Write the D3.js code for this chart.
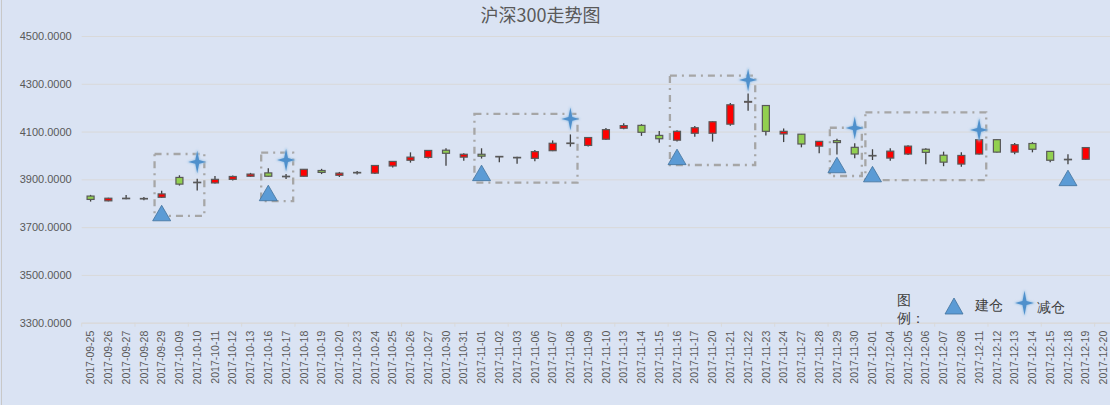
<!DOCTYPE html>
<html lang="zh">

<head>
	<meta charset="utf-8">
	<title> 沪深300走势图 </title>
	<script src="https://d3js.org/d3.v7.min.js"></script>
	<style type="text/css">
		body { margin: 0; background: #dae3f3; }
		svg { display: block; }
		text { font-family: "Liberation Sans", Arial, sans-serif; }
		.cjk { font-family: "Noto Sans CJK SC", "Noto Sans", sans-serif; }
	</style>
</head>

<body>
	<svg id="chart" width="1110" height="405"></svg>

	<script type="text/javascript">
	// categories (trading days)
	var dates = ["2017-09-25","2017-09-26","2017-09-27","2017-09-28","2017-09-29",
		"2017-10-09","2017-10-10","2017-10-11","2017-10-12","2017-10-13","2017-10-16","2017-10-17",
		"2017-10-18","2017-10-19","2017-10-20","2017-10-23","2017-10-24","2017-10-25","2017-10-26",
		"2017-10-27","2017-10-30","2017-10-31","2017-11-01","2017-11-02","2017-11-03","2017-11-06",
		"2017-11-07","2017-11-08","2017-11-09","2017-11-10","2017-11-13","2017-11-14","2017-11-15",
		"2017-11-16","2017-11-17","2017-11-20","2017-11-21","2017-11-22","2017-11-23","2017-11-24",
		"2017-11-27","2017-11-28","2017-11-29","2017-11-30","2017-12-01","2017-12-04","2017-12-05",
		"2017-12-06","2017-12-07","2017-12-08","2017-12-11","2017-12-12","2017-12-13","2017-12-14",
		"2017-12-15","2017-12-18","2017-12-19","2017-12-20"]

	// OHLC series (12-20 has no bar)
	var open  = [3830,3810,3819,3818,3825, 3908,3886,3885,3900,3913,3927,3911, 3913,3937,3917,3927,3926,3956,3980,
		3992,4022,3993,4005,3994,3990,3988, 4020,4050,4042,4068,4114,4126,4084, 4064,4093,4093,4131,4223,4209,4090,
		4089,4039,4062,4034,3998,3989,4006, 4026,4001,3964,4006,4066,4014,4050, 4017,3982,3984,null]
	var high  = [3835,3823,3834,3826,3852, 3917,3902,3914,3916,3927,3946,3922, 3943,3944,3931,3935,3960,3977,4013,
		4023,4030,4009,4030,3998,3995,4023, 4063,4088,4077,4115,4135,4131,4102, 4106,4123,4143,4220,4259,4211,4113,
		4090,4061,4070,4051,4026,4030,4043, 4030,4016,4013,4068,4068,4052,4056, 4018,4005,4035,null]
	var low   = [3807,3808,3817,3812,3822, 3874,3853,3883,3895,3910,3911,3901, 3912,3922,3910,3920,3922,3950,3970,
		3987,3957,3978,3987,3972,3965,3976, 4018,4037,4037,4065,4110,4082,4053, 4058,4078,4058,4124,4187,4084,4056,
		4034,4009,4004,3988,3981,3978,4002, 3963,3955,3953,4004,4012,4005,4013, 3972,3963,3982,null]
	var close = [3816,3821,3821,3820,3839, 3880,3888,3900,3912,3922,3913,3913, 3942,3929,3926,3929,3958,3975,3993,
		4021,4009,4005,3997,3996,3992,4016, 4051,4052,4075,4108,4125,4097,4070, 4101,4116,4141,4212,4226,4101,4101,
		4048,4059,4054,4006,4000,4018,4039, 4013,3972,4000,4066,4014,4045,4026, 3980,3984,4033,null]

	// markers: 建仓 (triangles) and 减仓 (stars)
	var buyDates  = ["2017-09-29","2017-10-16","2017-11-01","2017-11-16","2017-11-29","2017-12-01","2017-12-18"]
	var buyValues = [3759, 3843, 3927, 3994, 3960, 3922, 3906]
	var sellDates  = ["2017-10-10","2017-10-17","2017-11-08","2017-11-22","2017-11-30","2017-12-11"]
	var sellValues = [3973, 3981, 4153, 4316, 4115, 4107]

	// dash-dot boxes around each position
	var boxStart = ["2017-09-29","2017-10-16","2017-11-01","2017-11-16","2017-11-29","2017-12-01"]
	var boxEnd   = ["2017-10-10","2017-10-17","2017-11-08","2017-11-22","2017-11-30","2017-12-11"]
	var boxTop   = [4006, 4012, 4174, 4334, 4116, 4180]
	var boxBottom= [3747, 3809, 3886, 3960, 3914, 3897]

	var yTicks = [3300, 3500, 3700, 3900, 4100, 4300, 4500]

	// colours
	var upColor = "#ff0000"
	var downColor = "#92d050"
	var edgeColor = "#595959"
	var markBlue = "#5b9bd5"
	var gridColor = "#d9d9d9"

	var windowW = 1110
	var windowH = 405
	var margin = {top: 36, left: 81.7, bottom: 82.3}
	var plotRight = 1112.4

	var data = dates.map((d, i) => ({date: d, o: open[i], h: high[i], l: low[i], c: close[i]}))

	var x = d3.scaleBand().domain(dates).range([margin.left, plotRight]).padding(0)
	var step = x.step()
	var cx = d => x(d) + step / 2
	var y = d3.scaleLinear().domain([3300, 4500]).range([windowH - margin.bottom, margin.top])

	var svg = d3.select("#chart")

	svg.append("rect").attr("width", windowW).attr("height", windowH).attr("fill", "#dae3f3")
	svg.append("line").attr("x1", 1.5).attr("x2", 1.5).attr("y1", 0).attr("y2", windowH)
		.attr("stroke", "#c8c8c8").attr("stroke-width", 1)

	// soft edge for the stars
	var defs = svg.append("defs")
	defs.append("filter").attr("id", "glow").attr("x", "-50%").attr("y", "-50%").attr("width", "200%").attr("height", "200%")
		.append("feGaussianBlur").attr("stdDeviation", 0.8)

	// title
	svg.append("text").attr("class", "cjk")
		.attr("x", 540.5).attr("y", 22)
		.attr("text-anchor", "middle")
		.attr("font-size", 18).attr("fill", "#595959")
		.text("沪深300走势图")

	// y grid + labels
	var yAxis = d3.axisLeft(y).tickValues(yTicks).tickSize(-(plotRight - margin.left))
		.tickPadding(10).tickFormat(d3.format(".4f"))
	svg.append("g").attr("transform", "translate(" + margin.left + ",0)")
		.call(yAxis)
		.call(g => g.select(".domain").remove())
		.call(g => g.selectAll("line").attr("stroke", gridColor).attr("stroke-width", 1))
		.call(g => g.selectAll("text").attr("fill", "#595959").attr("font-size", 11))

	// x axis
	var xAxis = d3.axisBottom(x).tickSize(0).tickPadding(8)
	var gx = svg.append("g").attr("transform", "translate(0," + y(3300) + ")").call(xAxis)
	gx.select(".domain").attr("stroke", gridColor)
	gx.selectAll("text")
		.attr("fill", "#595959").attr("font-size", 10.5)
		.attr("transform", "rotate(-90)")
		.attr("text-anchor", "end")
		.attr("x", -8).attr("y", 0).attr("dy", "0.35em")
	// tick marks every third category
	gx.selectAll(".minor").data(d3.range(0, dates.length + 1, 3)).enter()
		.append("line")
		.attr("x1", i => margin.left + i * step).attr("x2", i => margin.left + i * step)
		.attr("y1", 0).attr("y2", 4)
		.attr("stroke", gridColor)

	// dash-dot boxes
	var pad = step * 0.4
	svg.append("g").selectAll("rect")
		.data(boxStart.map((s, i) => ({s: s, e: boxEnd[i], t: boxTop[i], b: boxBottom[i]})))
		.enter().append("rect")
		.attr("x", d => cx(d.s) - pad)
		.attr("y", d => y(d.t))
		.attr("width", d => cx(d.e) - cx(d.s) + 2 * pad)
		.attr("height", d => y(d.b) - y(d.t))
		.attr("fill", "none")
		.attr("stroke", "#a6a6a6")
		.attr("stroke-width", 2.3)
		.attr("stroke-dasharray", "7,5,2,5")

	// candles
	var bars = data.filter(d => d.o != null)
	var candle = svg.append("g").selectAll("g").data(bars).enter().append("g")
	candle.append("line")
		.attr("x1", d => cx(d.date)).attr("x2", d => cx(d.date))
		.attr("y1", d => y(d.h)).attr("y2", d => y(d.l))
		.attr("stroke", "#404040").attr("stroke-width", 1.3)
	var bodyW = 7
	candle.append("rect")
		.attr("x", d => cx(d.date) - bodyW / 2)
		.attr("y", d => y(Math.max(d.o, d.c)))
		.attr("width", bodyW)
		.attr("height", d => Math.max(0.5, Math.abs(y(d.o) - y(d.c))))
		.attr("fill", d => d.c >= d.o ? upColor : downColor)
		.attr("stroke", edgeColor).attr("stroke-width", 1.2)

	// marker shapes
	function triPath(w, h) {
		return "M0," + (-h / 2) + "L" + (w / 2) + "," + (h / 2) + "L" + (-w / 2) + "," + (h / 2) + "Z"
	}
	function starPath(rx, ry, r) {
		var p = [[0, -ry], [r, -r], [rx, 0], [r, r], [0, ry], [-r, r], [-rx, 0], [-r, -r]]
		return "M" + p.map(q => q.join(",")).join("L") + "Z"
	}

	function drawTri(g, w, h) {
		g.append("path").attr("d", triPath(w, h))
			.attr("fill", markBlue).attr("stroke", "#41719c").attr("stroke-width", 0.8)
	}
	function drawStar(g, rx, ry, r) {
		g.append("path").attr("d", starPath(rx, ry, r))
			.attr("fill", "#8fbbe3").attr("stroke", "#a9cbe9").attr("stroke-width", 0.8)
			.attr("filter", "url(#glow)")
		g.append("path").attr("d", starPath(rx * 0.94, ry * 0.94, r * 0.95))
			.attr("fill", "#4f90cc").attr("stroke", "none")
	}

	var buys = svg.append("g").selectAll("g")
		.data(buyDates.map((d, i) => ({date: d, v: buyValues[i]})))
		.enter().append("g")
		.attr("transform", d => "translate(" + cx(d.date) + "," + y(d.v) + ")")
	buys.each(function () { drawTri(d3.select(this), 18, 15.5) })

	var sells = svg.append("g").selectAll("g")
		.data(sellDates.map((d, i) => ({date: d, v: sellValues[i]})))
		.enter().append("g")
		.attr("transform", d => "translate(" + cx(d.date) + "," + y(d.v) + ")")
	sells.each(function () { drawStar(d3.select(this), 9.5, 12, 2) })

	// legend
	var legend = svg.append("g").attr("class", "cjk").attr("fill", "#404040").attr("font-size", 14)
	legend.append("text").attr("x", 897).attr("y", 305).text("图")
	legend.append("text").attr("x", 897).attr("y", 323).text("例：")
	drawTri(legend.append("g").attr("transform", "translate(954,306)"), 18, 16)
	legend.append("text").attr("x", 975).attr("y", 310).text("建仓")
	drawStar(legend.append("g").attr("transform", "translate(1024.5,303)"), 10, 13, 2.1)
	legend.append("text").attr("x", 1037).attr("y", 312).text("减仓")
	</script>
</body>
</html>
